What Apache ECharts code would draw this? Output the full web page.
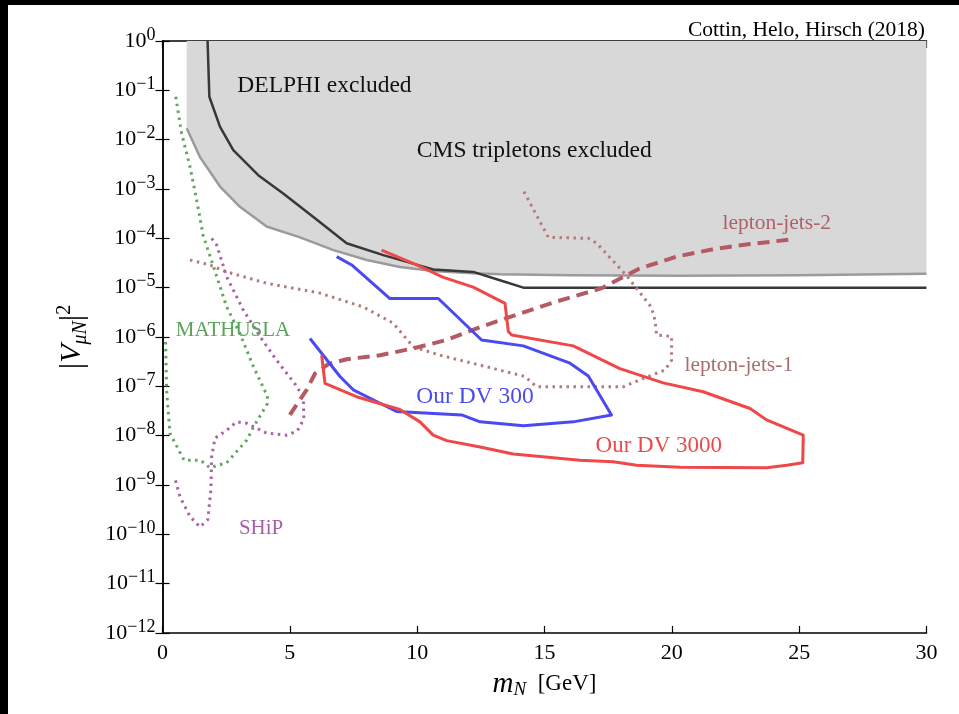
<!DOCTYPE html>
<html><head><meta charset="utf-8">
<script src="https://cdn.jsdelivr.net/npm/echarts@6/dist/echarts.min.js"></script>
<style>
html,body{margin:0;padding:0;background:#000;width:959px;height:714px;overflow:hidden}
#c{position:absolute;left:8px;top:5px;width:951px;height:709px;background:#fff}
</style></head><body><div id="c"></div>
<script>
// ---- data (y values are log10 of |V|^2) ----
const xTicks = [0, 5, 10, 15, 20, 25, 30];
const yTickExponents = [0, -1, -2, -3, -4, -5, -6, -7, -8, -9, -10, -11, -12];

const cmsX = [0.95, 1.47, 2.26, 3.04, 4.09, 5.40, 6.71, 8.02, 9.32, 10.63, 12.2, 13.25, 16.0, 20.3, 25.0, 30.0];
const cmsY = [-1.77, -2.35, -2.95, -3.36, -3.76, -3.98, -4.24, -4.44, -4.58, -4.66, -4.71, -4.73, -4.75, -4.76, -4.75, -4.72];

const delphiX = [1.77, 1.84, 2.26, 2.78, 3.76, 4.74, 6.05, 7.23, 8.67, 10.63, 12.2, 13.25, 14.17, 30.0];
const delphiY = [0, -1.13, -1.74, -2.21, -2.72, -3.09, -3.62, -4.10, -4.34, -4.63, -4.68, -4.85, -5.0, -5.0];

const dv3000X = [8.6, 9.98, 11.03, 12.2, 13.45, 13.58, 13.71, 16.13, 17.96, 19.66, 21.23, 23.07, 23.72, 25.16, 25.14, 24.51, 23.72, 20.32, 18.62, 17.70, 16.39, 13.77, 12.47, 11.16, 10.63, 10.11, 9.32, 7.62, 6.38, 6.25];
const dv3000Y = [-4.24, -4.54, -4.79, -4.99, -5.32, -5.89, -5.96, -6.18, -6.64, -6.93, -7.11, -7.45, -7.68, -7.99, -8.55, -8.60, -8.65, -8.64, -8.60, -8.53, -8.50, -8.37, -8.23, -8.10, -7.99, -7.72, -7.47, -7.21, -6.94, -6.37];

const dv300X = [6.84, 7.43, 8.93, 10.83, 12.53, 14.17, 16.0, 16.72, 17.63, 16.13, 14.17, 12.47, 11.75, 9.19, 7.49, 6.97, 5.79];
const dv300Y = [-4.37, -4.54, -5.22, -5.22, -6.06, -6.18, -6.53, -6.79, -7.58, -7.72, -7.80, -7.72, -7.58, -7.51, -7.07, -6.80, -6.03];

const lj2X = [5.0, 5.66, 5.99, 6.51, 7.23, 8.54, 9.85, 11.16, 12.47, 13.77, 15.48, 17.25, 18.7, 20.19, 21.63, 23.0, 24.57];
const lj2Y = [-7.58, -7.07, -6.74, -6.55, -6.45, -6.37, -6.23, -6.06, -5.80, -5.57, -5.28, -5.01, -4.62, -4.37, -4.22, -4.12, -4.03];

const lj1X = [1.08, 1.86, 2.52, 4.09, 6.18, 7.88, 9.06, 9.85, 10.9, 12.47, 13.77, 14.23, 14.69, 18.09, 18.88, 19.73, 19.99, 19.99, 19.40, 19.34, 19.2, 18.23, 17.05, 16.72, 15.15, 14.17];
const lj1Y = [-4.44, -4.54, -4.68, -4.91, -5.11, -5.39, -5.72, -6.20, -6.37, -6.57, -6.74, -6.80, -7.01, -7.01, -6.84, -6.67, -6.47, -5.99, -5.96, -5.66, -5.40, -4.76, -4.10, -4.0, -3.98, -3.03];

const mathuslaX = [0.52, 0.75, 1.08, 1.34, 1.60, 2.0, 2.52, 3.04, 3.57, 4.12, 4.12, 3.6, 3.31, 2.52, 1.86, 1.5, 1.0, 0.85, 0.29, 0.16, 0.12];
const mathuslaY = [-1.13, -1.87, -2.55, -3.22, -3.95, -4.57, -5.39, -5.93, -6.60, -7.2, -7.35, -7.8, -8.09, -8.55, -8.65, -8.5, -8.5, -8.5, -7.95, -7.07, -6.06];

const shipX = [1.93, 2.13, 2.52, 3.17, 3.83, 4.48, 5.2, 5.53, 5.55, 5.3, 4.88, 4.09, 3.31, 2.91, 2.52, 2.06, 1.93, 1.90, 1.78, 1.47, 1.08, 0.69, 0.49];
const shipY = [-4.0, -4.14, -4.78, -5.45, -5.99, -6.47, -6.95, -7.22, -7.66, -7.9, -7.99, -7.95, -7.75, -7.72, -7.89, -8.05, -8.43, -9.10, -9.70, -9.85, -9.64, -9.24, -8.87];

const labelTexts = ['DELPHI excluded', 'CMS tripletons excluded', 'lepton-jets-2', 'lepton-jets-1', 'MATHUSLA', 'Our DV 300', 'Our DV 3000', 'SHiP'];
const labelX = [6.36, 14.6, 24.12, 22.63, 2.77, 12.27, 19.49, 3.87];
const labelY = [-0.9, -2.23, -3.69, -6.58, -5.86, -7.22, -8.21, -9.89];

const creditText = 'Cottin, Helo, Hirsch (2018)';

// ---- styles ----
const FONT = 'Liberation Serif';
const labelColors = ['#111', '#111', '#b0606a', '#a86e6e', '#5aa35a', '#4b4be8', '#ec4a4a', '#a560a5'];
const labelSizes = [23.5, 23.5, 21.5, 21.5, 21, 23.5, 23, 21];

const pairs = (xs, ys) => xs.map((x, i) => [x, Math.pow(10, ys[i])]);

const baseAxisX = {
  type: 'value', min: 0, max: 30, interval: 5,
  axisLine: { lineStyle: { color: '#000', width: 1.5 } },
  axisTick: { inside: true, length: 7, lineStyle: { color: '#000', width: 1.2 } },
  splitLine: { show: false }
};
const baseAxisY = {
  type: 'log', logBase: 10, min: 1e-12, max: 1, interval: 1,
  axisLine: { lineStyle: { color: '#000', width: 1.5 } },
  axisTick: { inside: true, length: 7, lineStyle: { color: '#000', width: 1.2 } },
  splitLine: { show: false }, minorTick: { show: false }
};

function lineSeries(name, xs, ys, color, width, type, z) {
  return {
    name, type: 'line', data: pairs(xs, ys), symbol: 'none', z: z || 3,
    lineStyle: { color, width, type: type || 'solid', cap: 'butt', join: 'round' },
    silent: true, animation: false
  };
}

const chart = echarts.init(document.getElementById('c'), null, { renderer: 'canvas' });
const option = {
  animation: false,
  backgroundColor: '#fff',
  title: {
    text: creditText, right: 29, top: 9,
    textStyle: { fontFamily: FONT, fontSize: 21.5, fontWeight: 'normal', color: '#000' }
  },
  grid: { left: 154.5, right: 32.5, top: 36, bottom: 81 },
  xAxis: [
    Object.assign({}, baseAxisX, {
      position: 'bottom',
      axisLabel: { margin: 9, fontFamily: FONT, fontSize: 22, color: '#000',
        formatter: v => xTicks.includes(v) ? String(v) : '' },
      name: '{i|m}{sub|N}{n|  [GeV]}', nameLocation: 'middle', nameGap: 36,
      nameTextStyle: {
        rich: {
          i: { fontFamily: FONT, fontStyle: 'italic', fontSize: 29, color: '#000', lineHeight: 30, verticalAlign: 'middle' },
          sub: { fontFamily: FONT, fontStyle: 'italic', fontSize: 19, color: '#000', lineHeight: 12, verticalAlign: 'bottom' },
          n: { fontFamily: FONT, fontSize: 23, color: '#000', lineHeight: 30, verticalAlign: 'middle' }
        }
      }
    }),
    Object.assign({}, baseAxisX, { position: 'top', axisLabel: { show: false } })
  ],
  yAxis: [
    Object.assign({}, baseAxisY, {
      position: 'left',
      axisLabel: {
        margin: 7, color: '#000',
        formatter: v => {
          const e = Math.round(Math.log10(v));
          if (!yTickExponents.includes(e)) return '';
          return '{b|10}{s|' + (e < 0 ? '\u2212' + (-e) : e) + '}';
        },
        rich: {
          b: { fontFamily: FONT, fontSize: 22, color: '#000', lineHeight: 30, verticalAlign: 'middle' },
          s: { fontFamily: FONT, fontSize: 18, color: '#000', lineHeight: 18, verticalAlign: 'top' }
        }
      },
      name: '{p||}{i|V}{sub|\u03bcN}{p||}{sup|2}', nameLocation: 'middle', nameGap: 72, nameRotate: 90,
      nameTextStyle: {
        rich: {
          p: { fontFamily: FONT, fontSize: 32, color: '#000', lineHeight: 36, verticalAlign: 'middle' },
          i: { fontFamily: FONT, fontStyle: 'italic', fontSize: 30, color: '#000', lineHeight: 36, verticalAlign: 'middle' },
          sub: { fontFamily: FONT, fontStyle: 'italic', fontSize: 20, color: '#000', lineHeight: 16, verticalAlign: 'bottom' },
          sup: { fontFamily: FONT, fontSize: 20, color: '#000', lineHeight: 18, verticalAlign: 'top' }
        }
      }
    }),
    Object.assign({}, baseAxisY, { position: 'right', axisLabel: { show: false } })
  ],
  series: [
    Object.assign(lineSeries('CMS tripletons', cmsX, cmsY, '#9b9b9b', 2.5, 'solid', 1), {
      areaStyle: { color: '#d8d8d8', opacity: 1, origin: 'end' }
    }),
    lineSeries('DELPHI', delphiX, delphiY, '#383838', 2.5, 'solid', 2),
    lineSeries('lepton-jets-1', lj1X, lj1Y, '#b47a7a', 3, [2.5, 4.5], 3),
    lineSeries('MATHUSLA', mathuslaX, mathuslaY, '#5fa65f', 3, [2.5, 4.5], 3),
    lineSeries('SHiP', shipX, shipY, '#a862a8', 3, [2.5, 4.5], 3),
    lineSeries('lepton-jets-2', lj2X, lj2Y, '#b35a62', 4, [12, 7], 4),
    lineSeries('Our DV 300', dv300X, dv300Y, '#4a4af0', 3, 'solid', 5),
    lineSeries('Our DV 3000', dv3000X, dv3000Y, '#f04848', 3, 'solid', 6),
    {
      type: 'scatter', symbolSize: 2, z: 10, silent: true, animation: false,
      itemStyle: { color: 'rgba(0,0,0,0)' },
      data: labelTexts.map((t, i) => ({
        value: [labelX[i], Math.pow(10, labelY[i])],
        label: { show: true, position: 'inside', formatter: t, color: labelColors[i],
          opacity: 1, fontFamily: FONT, fontSize: labelSizes[i] }
      }))
    }
  ]
};
chart.setOption(option);
</script></body></html>
